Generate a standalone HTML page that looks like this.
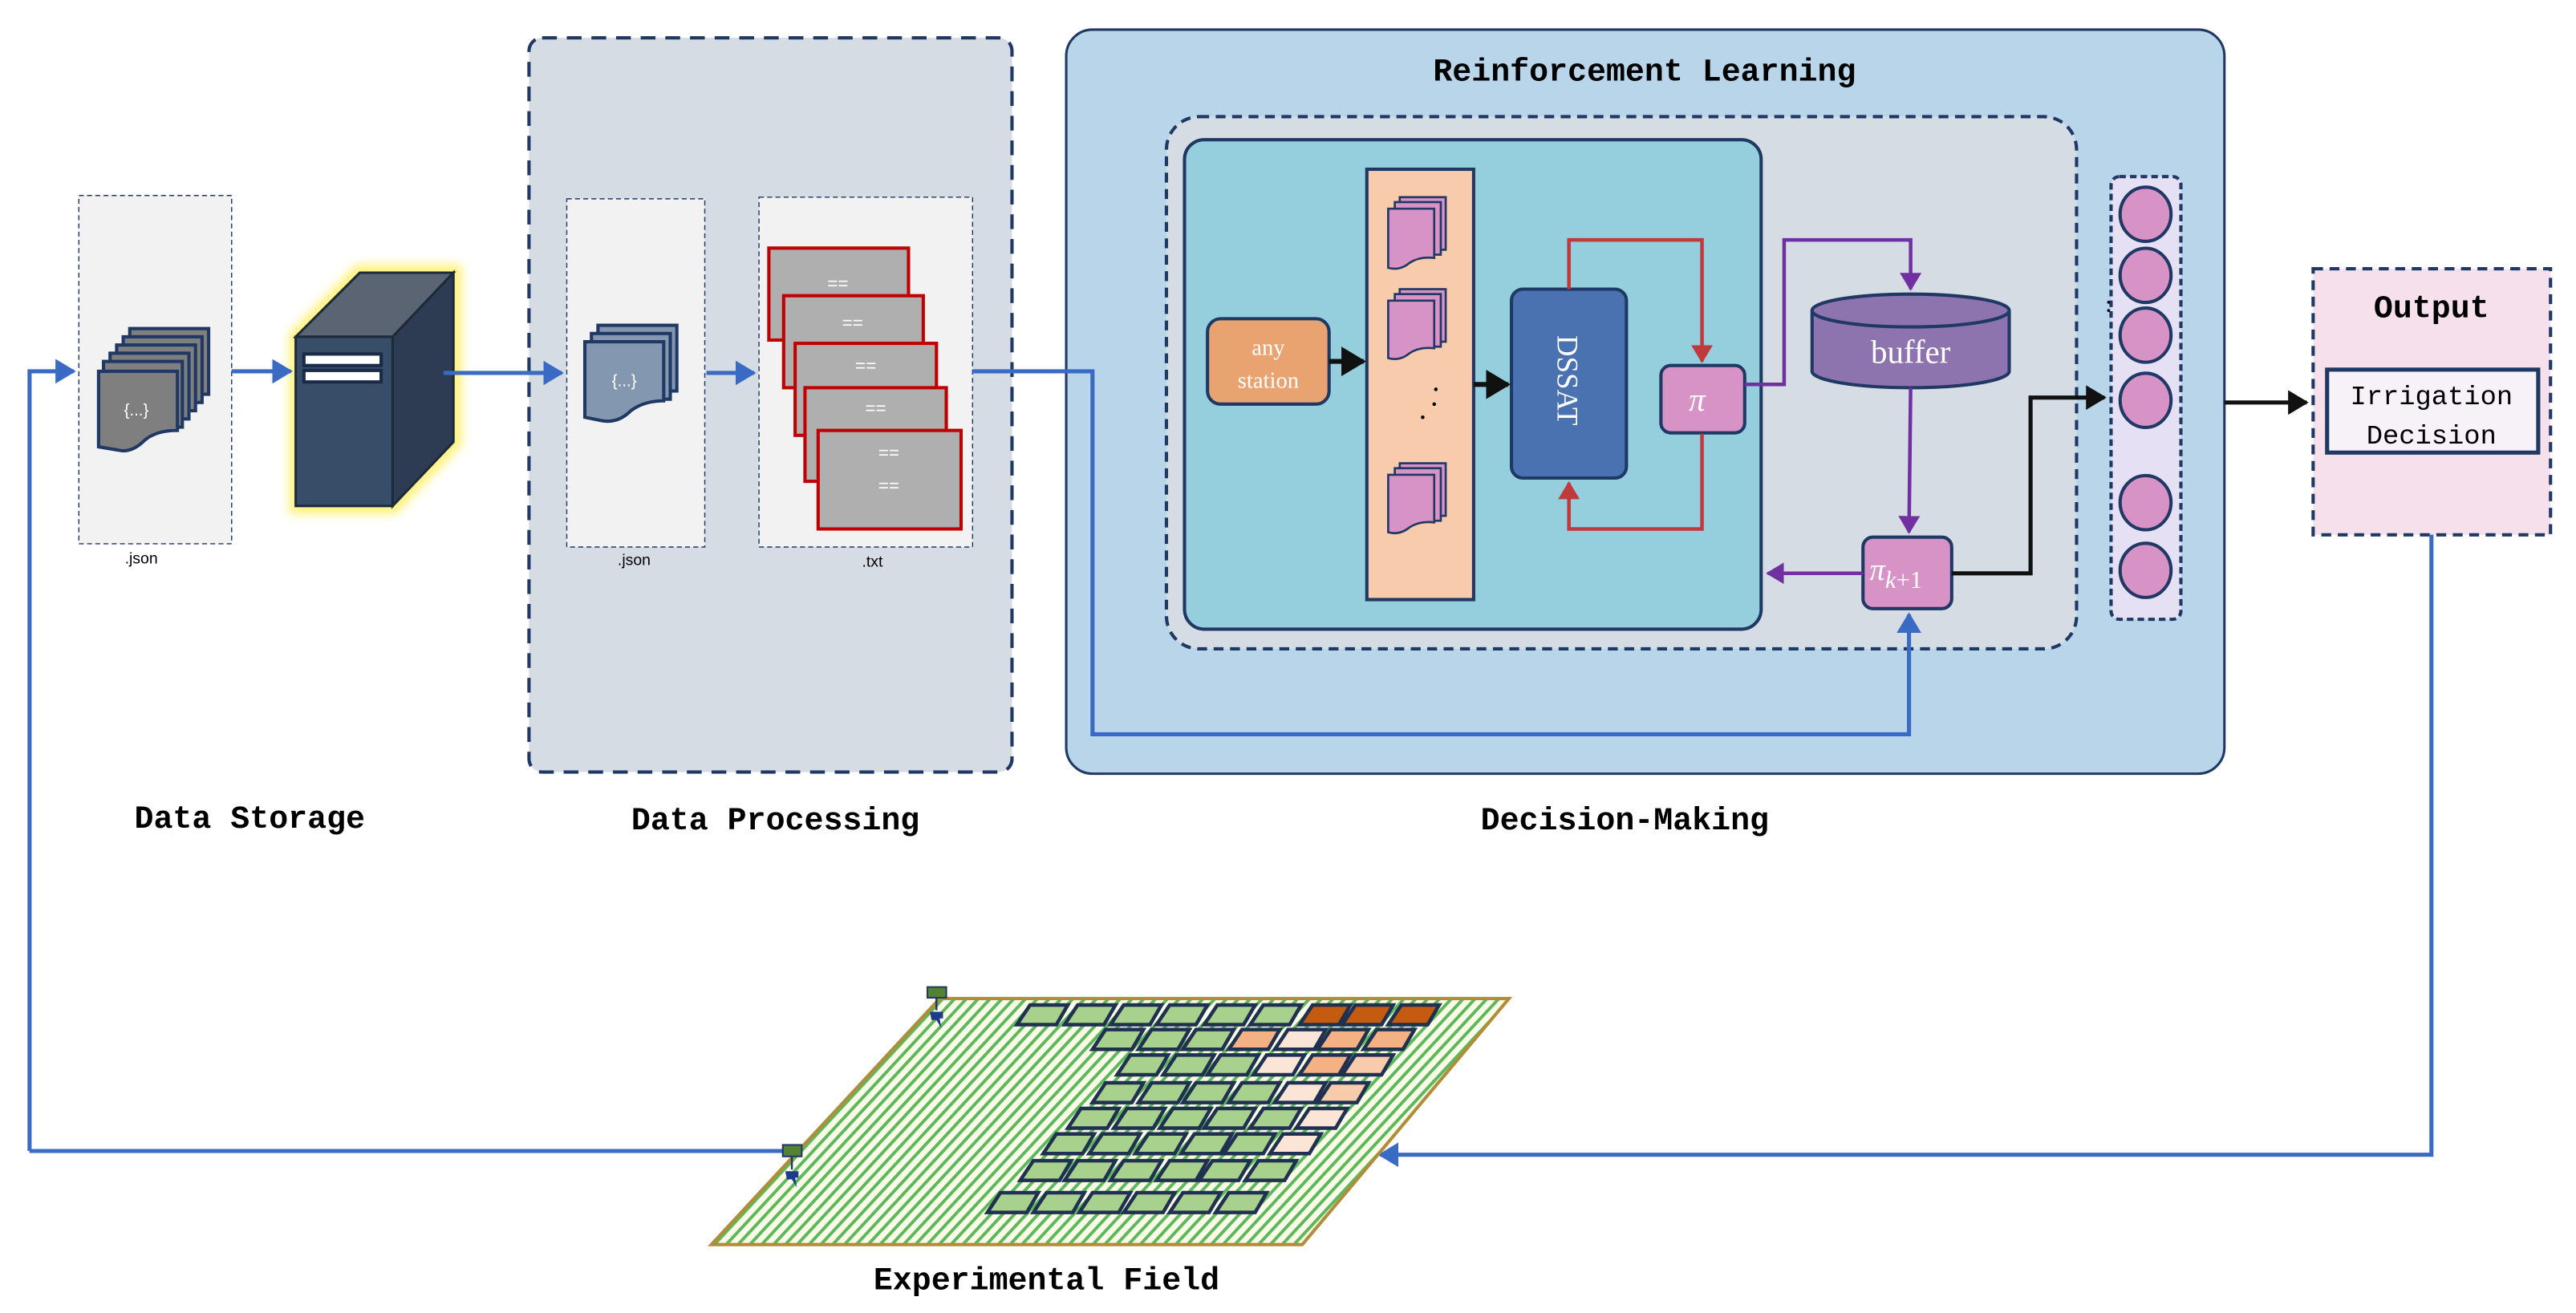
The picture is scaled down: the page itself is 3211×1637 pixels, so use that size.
<!DOCTYPE html>
<html><head><meta charset="utf-8"><style>
html,body{margin:0;padding:0;background:#fff;}
svg{display:block;}
.lbl{font-family:"Liberation Mono",monospace;font-weight:bold;font-size:19.5px;fill:#000;}
.sm{font-family:"Liberation Sans",sans-serif;font-size:9.5px;fill:#000;}
.ser{font-family:"Liberation Serif",serif;fill:#fff;}
</style></head><body>
<svg width="3211" height="1637" viewBox="0 0 1568 799.3" xmlns="http://www.w3.org/2000/svg">
<defs>
<marker id="ab" markerWidth="5" markerHeight="6" refX="4.5" refY="3" orient="auto" markerUnits="strokeWidth"><path d="M0,0 L5,3 L0,6 Z" fill="#3a6bc4"/></marker>
<marker id="ak" markerWidth="5" markerHeight="6" refX="4.5" refY="3" orient="auto" markerUnits="strokeWidth"><path d="M0,0 L5,3 L0,6 Z" fill="#111"/></marker>
<marker id="ar" markerWidth="5" markerHeight="6" refX="4.5" refY="3" orient="auto" markerUnits="strokeWidth"><path d="M0,0 L5,3 L0,6 Z" fill="#c0393b"/></marker>
<marker id="ap" markerWidth="5" markerHeight="6" refX="4.5" refY="3" orient="auto" markerUnits="strokeWidth"><path d="M0,0 L5,3 L0,6 Z" fill="#7030a0"/></marker>
<pattern id="stripes" width="7.2" height="20" patternUnits="userSpaceOnUse" patternTransform="skewX(-42.9)">
<rect width="7.2" height="20" fill="#fbfbe8"/><rect x="0" width="2.6" height="20" fill="#5cb85c"/>
</pattern>
<filter id="glow" x="-30%" y="-30%" width="160%" height="160%"><feGaussianBlur stdDeviation="3"/></filter>
</defs>

<!-- Data Storage -->
<rect x="48" y="119" width="93" height="212" fill="#f2f2f2" stroke="#1f3864" stroke-width="0.7" stroke-dasharray="3,2"/>
<text class="sm" x="86" y="343" text-anchor="middle">.json</text>
<g stroke="#1f3864" stroke-width="2" fill="#7f7f7f">
<rect x="79" y="200" width="48" height="40"/>
<rect x="75" y="205" width="48" height="40"/>
<rect x="71" y="210" width="48" height="40"/>
<rect x="67" y="215" width="48" height="40"/>
<rect x="63" y="220" width="48" height="40"/>
<path d="M60,226 L108,226 L108,262 Q95,262 88,268 Q80,276 72,274 L60,272 Z"/>
</g>
<text x="83" y="253" font-family="Liberation Sans,sans-serif" font-size="10" fill="#fff" text-anchor="middle">{...}</text>

<!-- Server -->
<g>
<polygon points="176,203 217,161 281,161 281,271 241,313 176,313" fill="#fff27a" filter="url(#glow)"/>
<polygon points="180,205 219,166 276,166 239,205" fill="#5a6472" stroke="#1d2a3c" stroke-width="1.5"/>
<rect x="180" y="205" width="59" height="103" fill="#384e68" stroke="#1d2a3c" stroke-width="1.5"/>
<polygon points="239,205 276,166 276,269 239,308" fill="#2d3c52" stroke="#1d2a3c" stroke-width="1.5"/>
<rect x="185" y="215.5" width="47" height="7" fill="#fff" stroke="#1a2a4a" stroke-width="2"/>
<rect x="185" y="225.5" width="47" height="7" fill="#fff" stroke="#1a2a4a" stroke-width="2"/>
</g>

<!-- Data Processing -->
<rect x="322" y="23" width="294" height="447" rx="8" fill="#d6dce4" stroke="#1f3864" stroke-width="2" stroke-dasharray="9,6"/>
<rect x="345" y="121" width="84" height="212" fill="#f2f2f2" stroke="#1f3864" stroke-width="0.7" stroke-dasharray="3,2"/>
<text class="sm" x="386" y="344" text-anchor="middle">.json</text>
<g stroke="#1f3864" stroke-width="2" fill="#8497b0">
<rect x="364" y="198" width="48" height="40"/>
<rect x="360" y="203" width="48" height="40"/>
<path d="M356,208 L404,208 L404,244 Q392,244 384,250 Q376,258 366,256 L356,254 Z"/>
</g>
<text x="380" y="235" font-family="Liberation Sans,sans-serif" font-size="10" fill="#fff" text-anchor="middle">{...}</text>
<rect x="462" y="120" width="130" height="213" fill="#f2f2f2" stroke="#1f3864" stroke-width="0.7" stroke-dasharray="3,2"/>
<text class="sm" x="531" y="345" text-anchor="middle">.txt</text>
<g fill="#afafaf" stroke="#c00000" stroke-width="2">
<rect x="468" y="151" width="85" height="56"/>
<rect x="477" y="180" width="85" height="56"/>
<rect x="484" y="209" width="86" height="56"/>
<rect x="490" y="236" width="86" height="57"/>
<rect x="498" y="262" width="87" height="60"/>
</g>
<g font-family="Liberation Sans,sans-serif" font-size="11" fill="#fff" text-anchor="middle">
<text x="510" y="176">==</text><text x="519" y="200">==</text><text x="527" y="226">==</text><text x="533" y="252">==</text><text x="541" y="279">==</text><text x="541" y="299">==</text>
</g>

<!-- Reinforcement Learning -->
<rect x="649" y="18" width="705" height="453" rx="16" fill="#b8d5ea" stroke="#1f3864" stroke-width="1.5"/>
<text class="lbl" x="1001" y="49" text-anchor="middle">Reinforcement Learning</text>
<rect x="710" y="71" width="554" height="324" rx="20" fill="#d6dce4" stroke="#1f3864" stroke-width="2" stroke-dasharray="6,4"/>
<rect x="721" y="85" width="351" height="298" rx="12" fill="#95cfdd" stroke="#1f3864" stroke-width="2"/>
<rect x="735" y="194" width="74" height="52" rx="8" fill="#e9a370" stroke="#1f3864" stroke-width="2"/>
<text class="ser" x="772" y="216" font-size="14" text-anchor="middle">any</text>
<text class="ser" x="772" y="236" font-size="14" text-anchor="middle">station</text>
<rect x="832" y="103" width="65" height="262" fill="#f8cbad" stroke="#1f3864" stroke-width="2"/>
<g stroke="#1f3864" stroke-width="1.3" fill="#d893c6">
<rect x="852" y="120" width="28" height="32"/><rect x="849" y="123" width="28" height="32"/>
<path d="M845,127 L873,127 L873,157 Q864,156 858,160 Q852,165 845,163 Z"/>
<rect x="852" y="176" width="28" height="32"/><rect x="849" y="179" width="28" height="32"/>
<path d="M845,183 L873,183 L873,212 Q864,211 858,215 Q852,220 845,218 Z"/>
<rect x="852" y="282" width="28" height="32"/><rect x="849" y="285" width="28" height="32"/>
<path d="M845,289 L873,289 L873,318 Q864,317 858,321 Q852,326 845,324 Z"/>
</g>
<g fill="#000"><circle cx="874" cy="237" r="1.1"/><circle cx="873" cy="246" r="1.1"/><circle cx="866" cy="254" r="1.1"/></g>
<rect x="920" y="176" width="70" height="115" rx="7" fill="#4b72b0" stroke="#1f3864" stroke-width="2"/>
<text class="ser" x="0" y="0" font-size="18" transform="translate(948,204) rotate(90)">DSSAT</text>
<rect x="1011" y="222.5" width="51" height="41" rx="6" fill="#d893c6" stroke="#1f3864" stroke-width="2"/>
<text class="ser" x="1033" y="250" font-size="20" font-style="italic" text-anchor="middle">π</text>
<path d="M955,176 L955,146 L1036,146 L1036,220" fill="none" stroke="#c0393b" stroke-width="2.2" marker-end="url(#ar)"/>
<path d="M1036,264 L1036,322 L955,322 L955,294" fill="none" stroke="#c0393b" stroke-width="2.2" marker-end="url(#ar)"/>
<path d="M809,220 L830,220" stroke="#111" stroke-width="3" marker-end="url(#ak)"/>
<path d="M897,234 L918,234" stroke="#111" stroke-width="3" marker-end="url(#ak)"/>
<!-- buffer -->
<path d="M1103,189 L1103,226 A60,10 0 0 0 1223,226 L1223,189" fill="#8e74ae" stroke="#1f3864" stroke-width="2"/>
<ellipse cx="1163" cy="189" rx="60" ry="10" fill="#8e74ae" stroke="#1f3864" stroke-width="2"/>
<text class="ser" x="1163" y="221" font-size="20" text-anchor="middle">buffer</text>
<path d="M1062,234 L1086,234 L1086,146 L1163,146 L1163,176" fill="none" stroke="#7030a0" stroke-width="2.2" marker-end="url(#ap)"/>
<path d="M1163,236 L1162,324" fill="none" stroke="#7030a0" stroke-width="2.2" marker-end="url(#ap)"/>
<rect x="1134" y="327" width="54" height="43.5" rx="6" fill="#d893c6" stroke="#1f3864" stroke-width="2"/>
<text class="ser" x="1138" y="353" font-size="19" font-style="italic">π<tspan font-size="15" dy="5">k</tspan><tspan font-size="15" font-style="normal">+1</tspan></text>
<path d="M1134,349 L1076,349" stroke="#7030a0" stroke-width="2.2" marker-end="url(#ap)"/>
<path d="M1188,349 L1236,349 L1236,242 L1281,242" fill="none" stroke="#111" stroke-width="2.5" marker-end="url(#ak)"/>
<!-- neurons -->
<rect x="1285" y="107.5" width="42.5" height="269.5" rx="5" fill="#e6e0f5" stroke="#1f3864" stroke-width="2" stroke-dasharray="4,2.5"/>
<g fill="#d893c6" stroke="#1f3864" stroke-width="2">
<ellipse cx="1306" cy="130.4" rx="15.5" ry="16.5"/><ellipse cx="1306" cy="167.6" rx="15.5" ry="16.5"/>
<ellipse cx="1306" cy="204" rx="15.5" ry="16.5"/><ellipse cx="1306" cy="243.7" rx="15.5" ry="16.5"/>
<ellipse cx="1306" cy="306" rx="15.5" ry="16.5"/><ellipse cx="1306" cy="347.2" rx="15.5" ry="16.5"/>
</g>
<g fill="#000"><circle cx="1283.5" cy="184" r="0.9"/><circle cx="1283.5" cy="189" r="0.9"/></g>

<!-- Output -->
<path d="M1354,245 L1404,245" stroke="#111" stroke-width="2.5" marker-end="url(#ak)"/>
<rect x="1408" y="163.6" width="144.5" height="162" fill="#f5e0ec" stroke="#1f3864" stroke-width="2" stroke-dasharray="6,4"/>
<text class="lbl" x="1480" y="193" text-anchor="middle" font-size="19">Output</text>
<rect x="1416.5" y="225" width="128.5" height="50.5" fill="#f7f1f8" stroke="#1f3864" stroke-width="2.5"/>
<text x="1480" y="246" text-anchor="middle" font-family="Liberation Mono,monospace" font-size="16.5" fill="#000">Irrigation</text>
<text x="1480" y="270" text-anchor="middle" font-family="Liberation Mono,monospace" font-size="16.5" fill="#000">Decision</text>

<!-- Blue connectors -->
<g fill="none" stroke="#3a6bc4" stroke-width="2.5">
<path d="M18,700.7 L18,226 L45,226" marker-end="url(#ab)"/>
<path d="M141,226 L177,226" marker-end="url(#ab)"/>
<path d="M270,227 L342,227" marker-end="url(#ab)"/>
<path d="M430,227 L459,227" marker-end="url(#ab)"/>
<path d="M592,226 L665,226 L665,447 L1162,447 L1162,374" marker-end="url(#ab)"/>
<path d="M1480,325.5 L1480,703 L840,703" marker-end="url(#ab)"/>
<path d="M18,700.7 L478,700.7"/>
</g>

<!-- Field -->
<polygon points="433,757.7 572,607.9 918.5,607.9 792.7,757.7" fill="url(#stripes)" stroke="#b08d3a" stroke-width="2"/>
<!-- sensors -->
<g>
<rect x="564.5" y="600.9" width="11.5" height="6.5" fill="#548235" stroke="#1f3864" stroke-width="1"/>
<line x1="570" y1="607" x2="570" y2="615" stroke="#1f3864" stroke-width="1.2"/>
<path d="M566,616 L574,616 L574,620 L572,620 L573,626 L570,621 L567,621 Z" fill="#1f3a8a"/>
<rect x="476.5" y="697" width="11.5" height="7" fill="#548235" stroke="#1f3864" stroke-width="1"/>
<line x1="482" y1="704" x2="482" y2="712" stroke="#1f3864" stroke-width="1.2"/>
<path d="M478,713 L486,713 L486,717 L484,717 L485,723 L482,718 L479,718 Z" fill="#1f3a8a"/>
</g>

<!-- Labels -->
<text class="lbl" x="152" y="504" text-anchor="middle">Data Storage</text>
<text class="lbl" x="472" y="505" text-anchor="middle">Data Processing</text>
<text class="lbl" x="989" y="505" text-anchor="middle">Decision-Making</text>
<text class="lbl" x="637" y="785" text-anchor="middle">Experimental Field</text>

<g stroke="#1f3050" stroke-width="2.2">
<g transform="translate(0,617.8)">
<polygon points="619,6 643,6 650,-6 627,-6" fill="#a9d18e"/>
<polygon points="648,6 672,6 679,-6 656,-6" fill="#a9d18e"/>
<polygon points="676,6 700,6 707,-6 684,-6" fill="#a9d18e"/>
<polygon points="704,6 728,6 735,-6 712,-6" fill="#a9d18e"/>
<polygon points="733,6 757,6 764,-6 741,-6" fill="#a9d18e"/>
<polygon points="761,6 785,6 792,-6 769,-6" fill="#a9d18e"/>
<polygon points="791,6 815,6 822,-6 799,-6" fill="#c55a11"/>
<polygon points="817,6 841,6 848,-6 825,-6" fill="#c55a11"/>
<polygon points="845,6 869,6 876,-6 853,-6" fill="#c55a11"/>
</g>
<g transform="translate(0,632.8)">
<polygon points="665,6 689,6 696,-6 673,-6" fill="#a9d18e"/>
<polygon points="693,6 717,6 724,-6 701,-6" fill="#a9d18e"/>
<polygon points="720,6 744,6 751,-6 728,-6" fill="#a9d18e"/>
<polygon points="748,6 772,6 779,-6 756,-6" fill="#f4b183"/>
<polygon points="776,6 800,6 807,-6 784,-6" fill="#fbe5d6"/>
<polygon points="802,6 826,6 833,-6 810,-6" fill="#f4b183"/>
<polygon points="830,6 854,6 861,-6 838,-6" fill="#f4b183"/>
</g>
<g transform="translate(0,648.3)">
<polygon points="680,6 704,6 711,-6 688,-6" fill="#a9d18e"/>
<polygon points="708,6 732,6 739,-6 716,-6" fill="#a9d18e"/>
<polygon points="735,6 759,6 766,-6 743,-6" fill="#a9d18e"/>
<polygon points="763,6 787,6 794,-6 771,-6" fill="#fbe5d6"/>
<polygon points="791,6 815,6 822,-6 799,-6" fill="#f4b183"/>
<polygon points="817,6 841,6 848,-6 825,-6" fill="#f8cbad"/>
</g>
<g transform="translate(0,665.2)">
<polygon points="665,6 689,6 696,-6 673,-6" fill="#a9d18e"/>
<polygon points="693,6 717,6 724,-6 701,-6" fill="#a9d18e"/>
<polygon points="720,6 744,6 751,-6 728,-6" fill="#a9d18e"/>
<polygon points="748,6 772,6 779,-6 756,-6" fill="#a9d18e"/>
<polygon points="776,6 800,6 807,-6 784,-6" fill="#fbe5d6"/>
<polygon points="802,6 826,6 833,-6 810,-6" fill="#f8cbad"/>
</g>
<g transform="translate(0,680.8)">
<polygon points="650,6 674,6 681,-6 658,-6" fill="#a9d18e"/>
<polygon points="678,6 702,6 709,-6 686,-6" fill="#a9d18e"/>
<polygon points="706,6 730,6 737,-6 714,-6" fill="#a9d18e"/>
<polygon points="733,6 757,6 764,-6 741,-6" fill="#a9d18e"/>
<polygon points="761,6 785,6 792,-6 769,-6" fill="#a9d18e"/>
<polygon points="789,6 813,6 820,-6 797,-6" fill="#fbe5d6"/>
</g>
<g transform="translate(0,696.3)">
<polygon points="635,6 659,6 666,-6 643,-6" fill="#a9d18e"/>
<polygon points="663,6 687,6 694,-6 671,-6" fill="#a9d18e"/>
<polygon points="691,6 715,6 722,-6 699,-6" fill="#a9d18e"/>
<polygon points="719,6 743,6 750,-6 727,-6" fill="#a9d18e"/>
<polygon points="745,6 769,6 776,-6 753,-6" fill="#a9d18e"/>
<polygon points="773,6 797,6 804,-6 781,-6" fill="#fbe5d6"/>
</g>
<g transform="translate(0,712.6)">
<polygon points="621,6 645,6 652,-6 629,-6" fill="#a9d18e"/>
<polygon points="648,6 672,6 679,-6 656,-6" fill="#a9d18e"/>
<polygon points="676,6 700,6 707,-6 684,-6" fill="#a9d18e"/>
<polygon points="704,6 728,6 735,-6 712,-6" fill="#a9d18e"/>
<polygon points="730,6 754,6 761,-6 738,-6" fill="#a9d18e"/>
<polygon points="758,6 782,6 789,-6 766,-6" fill="#a9d18e"/>
</g>
<g transform="translate(0,732.1)">
<polygon points="601,6 625,6 632,-6 609,-6" fill="#a9d18e"/>
<polygon points="629,6 653,6 660,-6 637,-6" fill="#a9d18e"/>
<polygon points="657,6 681,6 688,-6 665,-6" fill="#a9d18e"/>
<polygon points="684,6 708,6 715,-6 692,-6" fill="#a9d18e"/>
<polygon points="712,6 736,6 743,-6 720,-6" fill="#a9d18e"/>
<polygon points="740,6 764,6 771,-6 748,-6" fill="#a9d18e"/>
</g>
</g>
</svg>
</body></html>
